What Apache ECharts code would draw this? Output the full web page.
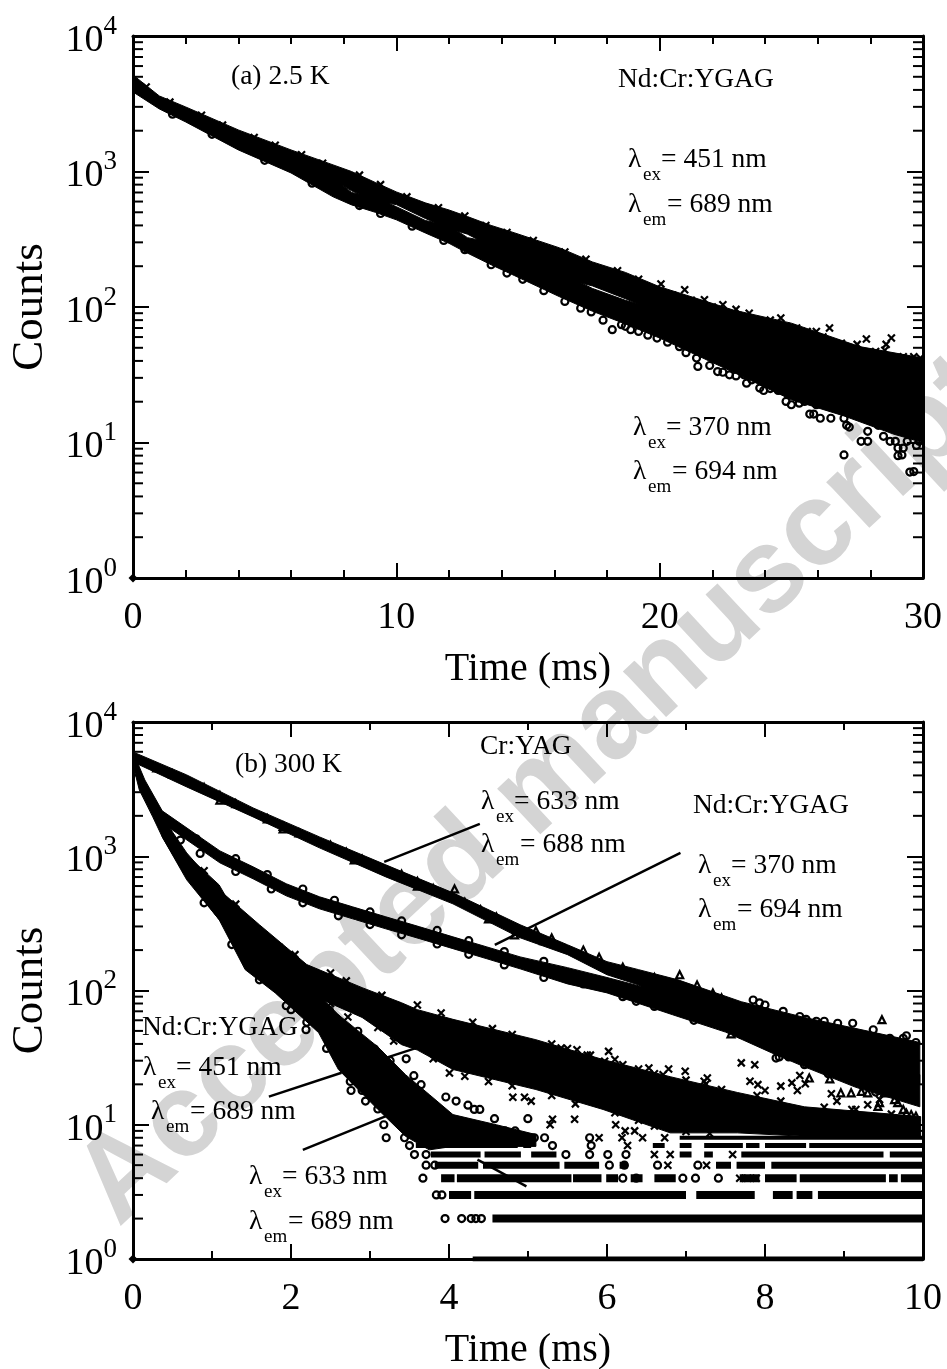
<!DOCTYPE html>
<html><head><meta charset="utf-8">
<style>html,body{margin:0;padding:0;background:#fff}#c{width:947px;height:1369px}</style>
<script src="https://cdn.jsdelivr.net/npm/echarts@6/dist/echarts.min.js"></script>
</head><body><div id="c"></div>
<script>
// ---------- panel (a): 2.5 K  rows are [time, low count, high count]
const bandA451 = [[0,4300,5160],[1,3200,3610],[2,2600,2995],[4,1700,2027],[6,1150,1443],[7.6,870,1119],[8.3,720,1000],[9.2,600,830],[10,570,707],[11.1,450,587],[12,380,520],[12.7,345,465],[13.6,280,400],[14.5,250,352],[16.2,165,273],[17.45,143,215],[18.7,115,180],[20,90,141],[22.8,60,95],[25,43,76],[27.6,30,51],[30,25,42]];
const bandA370 = [[0,3864,4900],[1,2895,3400],[2,2322,2800],[4,1443,1850],[6,976,1250],[7.6,650,900],[8.3,567,700],[9.2,500,640],[10,440,550],[11.1,352,435],[12,295,400],[12.7,250,325],[13.6,205,300],[14.5,170,260],[16.2,119,180],[17.45,93,137],[18.7,75,112],[20,59,95],[22.8,33,64],[25,20.7,46],[27,15.7,36],[28.9,11.5,32],[30,10,30]];
const crossA = [[0.5,4200],[1.4,3250],[2.6,2600],[3.4,2200],[4.6,1780],[5.4,1560],[6.4,1330],[7.2,1150],[8.6,940],[9.4,800],[10.4,650],[11.6,540],[12.6,470],[13.4,400],[14.2,355],[15.2,310],[16.4,255],[17.2,225],[18.4,185],[19.2,160],[20.05,148],[20.95,134],[21.7,113],[22.4,104],[22.9,96],[23.4,90],[24.2,80],[24.6,83],[24.8,72],[25.2,70],[25.95,66],[26.45,70],[27.5,53],[27.85,58],[28.8,59],[28.6,53],[28.55,48],[29.25,43],[29.65,43],[18.9,150],[19.6,138],[20.5,122],[21.2,112],[22,100],[23,86],[23.8,78],[25.6,66],[26.2,60],[26.9,54],[27.2,50],[28.2,47],[29,42],[29.9,42]];
const circleA = [[1.5,2650],[3,1880],[5,1210],[6.8,820],[8.6,560],[9.4,490],[10.6,395],[11.8,310],[12.6,265],[13.6,205],[13.9,210],[14.2,178],[14.8,160],[15.6,132],[16.4,110],[17.85,80],[18.2,68],[18.55,74],[18.9,68],[19.55,62],[19.9,59],[20.75,51],[21.4,42],[21.45,36.4],[22.2,33.4],[22.4,33],[22.65,31.6],[23.2,31.6],[23.3,27.4],[23.5,29],[23.8,25.2],[23.95,24.2],[24.4,26],[24.5,24.2],[24.8,20.1],[25,19],[25.25,21.3],[25.5,20.1],[25.7,16.2],[25.85,16.2],[26.1,15.1],[25.85,21.3],[25.95,19],[26.5,15.1],[27,8.1],[27,15.1],[27.1,13.4],[27.2,13],[27.65,10.2],[27.9,10.2],[27.9,12.1],[27.8,15.1],[28.3,13.4],[28.5,11.1],[28.75,10.2],[28.95,10.2],[29.05,9.1],[29.25,9.1],[29.2,8.1],[29.05,8],[29.5,6.05],[29.65,6.1],[29.4,10.2],[29.75,9.5],[29.85,10.2],[17,98],[17.4,92],[18.7,72],[19.2,66],[20.3,55],[21,46],[21.9,37],[22.9,31],[24.2,25],[25.3,19.5]];

// ---------- panel (b): 300 K  rows are [time, low count, high count]
const bandB688 = [[0,5040,5982],[0.68,3284,4034],[1.52,1964,2291],[2.36,1155,1394],[3.2,702,863],[4.05,442,534],[4.9,247,309],[5.5,185,219],[6,131,164],[6.4,110,143],[6.9,75,120],[7.7,55,82.5],[8.5,36,63],[9.36,26,49],[9.96,20,41]];
const bandB694 = [[0,5040,5982],[0.15,3119,3700],[0.37,1772,2178],[1.1,893,1096],[1.52,679,834],[1.94,507,624],[2.36,406,499],[2.78,342,420],[3.2,288,354],[3.63,243,298],[4.05,205,251],[4.47,173,212],[4.9,145,178],[5.5,112,148],[6,96,125],[6.83,66,93],[7.5,49,70],[8.1,34,51],[8.5,27,43],[9.15,19,30.6],[9.96,13.6,23.6]];
const bandB451 = [[0,4786,5982],[0.08,3119,4395],[0.25,1965,2496],[0.37,1394,1965],[0.68,690,1059],[1.09,337,562],[1.6,143,309],[2.2,96,156],[2.9,63,105],[3.4,39.5,81],[3.6,36,72],[4.05,25.8,61],[5.1,18.3,43],[5.95,13,30.6],[6.8,8.7,22.8],[7.65,8.7,17.4],[8.5,8.2,13.6],[9.97,8.2,11.5]];
const bandB633 = [[0.37,1394,1866],[0.68,667,1023],[1.09,337,612],[1.42,143,283],[1.8,96,156],[2.35,48.5,93],[2.6,25.8,66],[3.1,13,38],[3.45,8.2,23.6],[3.75,6.5,16.8],[4.05,6.9,11.9],[4.6,6.9,10],[5.1,6.9,8.45]];
const row1 = [[4.3,10]];
const row2 = [[4.55,10]];
const row3 = [[4.0,4.28],[4.32,7.0],[7.13,7.87],[8.1,8.35],[8.4,8.6],[8.67,10]];
const row4 = [[3.9,4.07],[4.1,5.55],[5.57,5.93],[5.99,6.14],[6.3,6.45],[6.6,6.87],[7.68,7.93],[8.0,8.4],[8.44,9.53],[9.57,9.68],[9.72,10]];
const row5 = [[3.82,4.37],[4.43,5.4],[5.46,5.9],[6.16,6.26],[7.38,7.57],[7.64,8.0],[8.08,10]];
const row6 = [[3.77,4.4],[4.45,4.91],[5.04,5.36],[6.92,7.07],[7.23,7.34],[7.7,9.5],[9.58,10]];
const row7 = [[3.58,4.87],[4.94,5.04],[6.58,6.73],[6.92,7.07],[7.23,7.72],[7.76,7.93],[8,8.52],[8.56,10]];
const row8 = [[3.9,5.1],[6.92,10]];
const crossB = [[2.72,63.5],[4.006,24.3],[4.808,16],[4.956,16],[5.04,15],[5.42,37.3],[5.62,36.2],[5.79,33],[6.02,35.2],[5.72,30.6],[6.1,30.6],[5.97,29.7],[5.84,27],[6.53,26.5],[6.78,26],[6.99,25],[6.71,23.6],[7.27,22.3],[7.23,21.1],[7.7,28.9],[7.87,28],[7.81,21.1],[7.91,19.9],[8.2,19.4],[8.44,23.3],[8.34,20.5],[8.51,20.2],[8.41,18],[8,18],[8.84,17],[8.91,15],[9.15,13],[9.3,14.1],[9.45,15.4],[5.59,11],[5.31,11],[5.28,10],[6.11,10],[6.23,9],[6.35,9],[6.45,8],[6.73,8],[6.19,8],[5.9,8],[6.26,7],[6.6,6],[6.8,6],[7.59,6],[6.77,5],[7.26,5],[7.68,4],[7.78,4],[7.89,4],[0.9,780],[1.3,440],[1.85,210],[2.05,185],[2.5,135],[2.7,118],[3.15,92],[3.6,78],[3.9,68],[4.3,58],[4.55,52],[4.8,47],[5.3,40],[5.5,37],[5.75,33],[6.2,28],[6.4,26],[6.6,24],[7,21.5],[7.25,20],[7.45,18.3],[7.9,16.5],[8.2,15],[8.75,13.5],[9.1,13],[9.6,12],[2.5,80],[3.1,53],[3.3,42],[3.8,31],[4.2,23],[4.5,21],[4.8,19.5],[5.3,16.5],[5.6,14.3],[6.1,12.3],[6.4,10.8],[6.6,9.8],[7,8.9],[7.3,8.6]];
const circleB = [[2.487,71],[2.57,62],[2.846,49.7],[3.057,36.6],[3.12,33.3],[3.255,30],[3.458,31],[3.555,23.2],[3.647,19.9],[2.795,21.9],[2.76,18],[2.943,15],[3.205,8],[3.175,10],[3.099,13.1],[3.96,16.1],[4.09,15],[4.24,14],[4.32,13],[4.39,13],[4.576,11.1],[4.998,11.1],[4.837,9],[4.71,9],[4.585,9],[4.92,8],[5.08,8],[3.563,6],[3.5,7],[3.71,6],[3.67,4],[3.71,5],[3.82,5],[3.84,3],[3.91,3],[3.95,2],[4.16,2],[4.28,2],[4.34,2],[4.41,2],[3.437,8],[2.19,51],[1.94,77],[5.21,8],[5.31,7],[5.78,8],[5.8,7],[5.48,6],[5.78,6],[6.01,6],[6.24,6],[6.64,5],[7.15,5],[6.03,5],[6.22,5],[6.96,4],[7.12,4],[7.41,4],[6.2,4],[6.37,4],[7.85,85],[8.23,70],[9.11,57],[9.58,44],[9.75,44],[9.79,46],[9.91,41],[8.14,31.4],[8.18,32],[8.5,28],[6.37,83],[8.92,57],[8.75,59],[8.65,59],[8,78],[7.93,81],[8.44,64],[8.52,61],[9.37,51],[9.49,43],[0.55,1650],[0.8,1350],[1.3,960],[1.7,730],[2.15,570],[2.55,470],[3,385],[3.4,330],[3.85,280],[4.25,235],[4.7,195],[5.2,165],[0.6,1320],[0.85,1050],[1.3,770],[1.75,570],[2.15,450],[2.6,360],[3,310],[3.4,260],[3.85,222],[4.25,186],[4.7,155],[5.2,125],[5.7,112],[6.2,90],[6.6,76],[7.1,60],[7.7,47],[8.3,32],[8.8,24],[9.4,17.5],[0.9,450],[1.25,220],[1.6,120],[2,72],[2.2,58],[2.45,37],[2.75,21],[2.9,18]];
const triangleB = [[8.56,22.3],[8.82,22],[9.48,60.6],[7.14,110],[6.92,131],[7.57,47.6],[7.66,49.8],[7.34,95.7],[7.45,88],[4.07,571],[4.83,260],[8.96,17.3],[9.09,17.3],[9.22,17.7],[9.3,17.3],[9.45,14.6],[9.64,15.4],[9.68,14.6],[9.79,12.2],[9.91,11.6],[9.43,13.7],[9.51,17.3],[9.64,17.7],[9.75,13],[9.85,11.9],[0.3,4550],[0.5,4100],[0.9,3250],[1.1,2840],[1.3,2460],[1.7,1900],[1.9,1670],[2.1,1490],[2.5,1210],[2.7,1070],[2.9,950],[3.4,735],[3.6,650],[3.8,575],[4.2,455],[4.4,400],[4.6,353],[5.1,279],[5.3,246],[5.7,200],[5.9,177],[6.2,149],[6.6,125],[1.1,2620],[1.9,1600],[2.8,940],[3.6,600],[4.5,342],[5.2,235]];
const originMark = [[0,1]];
const leader1 = [[3.18,908],[4.39,1741]];
const leader2 = [[4.58,219],[6.93,1059]];
const leader3a = [[1.72,16.2],[2.64,24.4]];
const leader3b = [[3.21,31.6],[3.63,38]];
const leader4a = [[2.15,6.5],[3.25,11.9]];
const leader4b = [[4.36,5.5],[4.98,3.47]];
const logDecades = [1,10,100,1000];
const logMantissas = [2,3,4,5,6,7,8,9];

const SERIF = '"Liberation Serif"';
const CROSS = 'path://M0 0L10 10M10 0L0 10';

function bandSeries(rows, g){
  return {type:'custom', xAxisIndex:g*2, yAxisIndex:g*2, clip:true, z:3, silent:true,
    data:rows, encode:{x:0,y:[1,2]},
    renderItem(p, api){
      if(p.dataIndex!==0) return null;
      const top = rows.map(r=>api.coord([r[0],r[2]]));
      const bot = rows.map(r=>api.coord([r[0],r[1]])).reverse();
      return {type:'polygon', shape:{points:top.concat(bot)}, style:{fill:'#000',stroke:'#000',lineWidth:1}};
    }};
}
function minorTicks(g){
  const vals=[];
  logDecades.forEach(d=>logMantissas.forEach(m=>vals.push([0,d*m])));
  return {type:'custom', xAxisIndex:g*2, yAxisIndex:g*2, z:6, silent:true, data:vals, encode:{x:0,y:1},
    renderItem(p, api){
      const y = api.coord([0,api.value(1)])[1], l=p.coordSys.x, r=l+p.coordSys.width;
      const st={stroke:'#000',lineWidth:2};
      return {type:'group',children:[
        {type:'line',shape:{x1:l,y1:y,x2:l+10,y2:y},style:st},
        {type:'line',shape:{x1:r,y1:y,x2:r-10,y2:y},style:st}]};
    }};
}
function markers(pts, symbol, size, g){
  return {type:'scatter', xAxisIndex:g*2, yAxisIndex:g*2, data:pts, symbol, symbolSize:size, z:4, silent:true,
    itemStyle:{color:'rgba(0,0,0,0)',borderColor:'#000',borderWidth:2.2,opacity:1}};
}
function origin(g){
  return {type:'scatter', xAxisIndex:g*2, yAxisIndex:g*2, data:originMark, symbol:'diamond', symbolSize:9, z:7, silent:true, clip:false,
    itemStyle:{color:'#000',opacity:1}};
}
function rowSeries(spans, count, width){
  const data=[];
  spans.forEach(s=>{data.push([s[0],count],[s[1],count],null);});
  return {type:'line', xAxisIndex:2, yAxisIndex:2, data, showSymbol:false, symbol:'none', z:3, silent:true,
    connectNulls:false, lineStyle:{color:'#000',width}};
}
function leader(pts){
  return {type:'line', xAxisIndex:2, yAxisIndex:2, data:pts, showSymbol:false, symbol:'none', z:5, silent:true,
    lineStyle:{color:'#000',width:2.5}};
}
const xBase = (grid,max,major,minorSplit,pos,labels)=>({type:'value',gridIndex:grid,min:0,max,interval:major,position:pos,
  axisLine:{show:true,onZero:false,lineStyle:{color:'#000',width:3}},
  axisTick:{show:true,inside:true,length:15,lineStyle:{color:'#000',width:2}},
  minorTick:{show:true,splitNumber:minorSplit,length:8,lineStyle:{color:'#000',width:2}},
  splitLine:{show:false},minorSplitLine:{show:false},
  axisLabel:{show:labels,margin:21,fontFamily:SERIF,fontSize:38,color:'#000',hideOverlap:false,showMinLabel:true,showMaxLabel:true},
  name:labels?'Time (ms)':'',nameLocation:'middle',nameGap:71,
  nameTextStyle:{fontFamily:SERIF,fontSize:40,color:'#000'}});
const yBase = (grid,pos,labels)=>({type:'log',logBase:10,gridIndex:grid,min:1,max:10000,position:pos,
  axisLine:{show:true,onZero:false,lineStyle:{color:'#000',width:3}},
  axisTick:{show:true,inside:true,length:16,lineStyle:{color:'#000',width:2}},
  minorTick:{show:false},
  splitLine:{show:false},minorSplitLine:{show:false},
  axisLabel:{show:labels,margin:16,showMinLabel:true,showMaxLabel:true,padding:[0,0,6,0],
    formatter:v=>'{b|10}{s|'+Math.round(Math.log10(v))+'}',
    rich:{b:{fontFamily:SERIF,fontSize:38,color:'#000',padding:[16,0,0,0],lineHeight:40},
          s:{fontFamily:SERIF,fontSize:27,color:'#000',verticalAlign:'top',lineHeight:27}}},
  name:labels?'Counts':'',nameLocation:'middle',nameGap:80,nameRotate:90,
  nameTextStyle:{fontFamily:SERIF,fontSize:45,color:'#000'}});

function txt(x,y,s,size){return {type:'text',x,y,z:60,silent:true,
  style:{text:s,font:(size||27.5)+'px '+SERIF,fill:'#000',verticalAlign:'middle',align:'left'}};}
function lam(x,y,sub,rest){
  const w = sub==='ex'?18:24;
  return [txt(x,y,'λ',27.5),txt(x+15,y+15,sub,19),txt(x+15+w,y,'= '+rest,27.5)];
}
const annotations = [].concat(
  txt(231,77,'(a) 2.5 K'),txt(618,80,'Nd:Cr:YGAG'),
  lam(628,160,'ex','451 nm'),lam(628,205,'em','689 nm'),
  lam(633,428,'ex','370 nm'),lam(633,472,'em','694 nm'),
  txt(235,765,'(b) 300 K'),txt(480,747,'Cr:YAG'),
  lam(481,802,'ex','633 nm'),lam(481,845,'em','688 nm'),
  txt(693,806,'Nd:Cr:YGAG'),
  lam(698,866,'ex','370 nm'),lam(698,910,'em','694 nm'),
  txt(142,1028,'Nd:Cr:YGAG'),
  lam(143,1068,'ex','451 nm'),lam(151,1112,'em','689 nm'),
  lam(249,1177,'ex','633 nm'),lam(249,1222,'em','689 nm')
);
const watermark = {type:'text',x:96,y:1204,rotation:43*Math.PI/180,z:-1,silent:true,
  style:{text:'Accepted manuscript',font:'bold 119px "Liberation Sans"',fill:'#d4d4d4',verticalAlign:'middle',align:'left'}};

const chart = echarts.init(document.getElementById('c'),null,{renderer:'canvas'});
chart.setOption({
  animation:false,backgroundColor:'#fff',
  grid:[{left:133,top:36,width:790,height:542,outerBoundsMode:'none'},{left:133,top:722,width:790,height:537,outerBoundsMode:'none'}],
  xAxis:[xBase(0,30,10,5,'bottom',true),xBase(0,30,10,5,'top',false),xBase(1,10,2,2,'bottom',true),xBase(1,10,2,2,'top',false)],
  yAxis:[yBase(0,'left',true),yBase(0,'right',false),yBase(1,'left',true),yBase(1,'right',false)],
  graphic:{elements:[watermark].concat(annotations)},
  series:[
    minorTicks(0),minorTicks(1),origin(0),origin(1),
    bandSeries(bandA451,0),bandSeries(bandA370,0),
    markers(crossA,CROSS,7,0),markers(circleA,'circle',7,0),
    bandSeries(bandB688,1),bandSeries(bandB694,1),bandSeries(bandB451,1),bandSeries(bandB633,1),
    rowSeries(row1,1,5),rowSeries(row2,2,8),rowSeries(row3,3,8),rowSeries(row4,4,8),
    rowSeries(row5,5,7),rowSeries(row6,6,6),rowSeries(row7,7,5),rowSeries(row8,8,4),
    markers(crossB,CROSS,7,1),markers(circleB,'circle',7,1),markers(triangleB,'triangle',7,1),
    leader(leader1),leader(leader2),leader(leader3a),leader(leader3b),leader(leader4a),leader(leader4b)
  ]
});
</script></body></html>
